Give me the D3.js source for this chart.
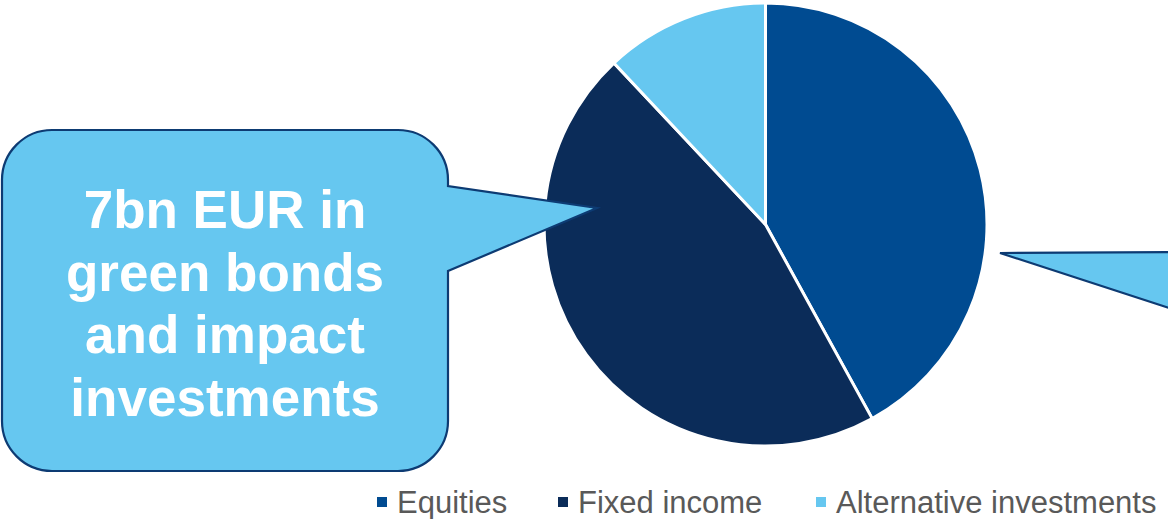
<!DOCTYPE html>
<html><head><meta charset="utf-8">
<script src="https://cdn.jsdelivr.net/npm/d3@7"></script>
<style>html,body{margin:0;padding:0;background:#fff;overflow:hidden}</style>
</head><body>
<svg id="c" width="1168" height="519"></svg>
<script>
const categories = ["Equities", "Fixed income", "Alternative investments"];
const values = [42, 46, 12];
const colors = ["#004b91", "#0b2c59", "#66c7f0"];
const calloutLines = ["7bn EUR in", "green bonds", "and impact", "investments"];

const svg = d3.select("#c");
const font = "'Liberation Sans', Arial, sans-serif";

// pie
const cx = 765.5, cy = 224.5, R = 221.5;
const pie = d3.pie().sort(null).value(d => d);
const arc = d3.arc().innerRadius(0).outerRadius(R);
const g = svg.append("g").attr("transform", `translate(${cx},${cy})`);
g.selectAll("path").data(pie(values)).join("path")
  .attr("d", arc).attr("fill", (d, i) => colors[i])
  .attr("stroke", "#fff").attr("stroke-width", 3).attr("stroke-linejoin", "round");

// left callout
const x0 = 2, x1 = 448, y0 = 130, y1 = 471, r = 50;
const p = d3.path();
p.moveTo(x0 + r, y0);
p.lineTo(x1 - r, y0);
p.arcTo(x1, y0, x1, y0 + r, r);
p.lineTo(x1, 186);
p.lineTo(597, 208);
p.lineTo(x1, 271);
p.lineTo(x1, y1 - r);
p.arcTo(x1, y1, x1 - r, y1, r);
p.lineTo(x0 + r, y1);
p.arcTo(x0, y1, x0, y1 - r, r);
p.lineTo(x0, y0 + r);
p.arcTo(x0, y0, x0 + r, y0, r);
p.closePath();
svg.append("path").attr("d", p.toString()).attr("fill", "#66c7f0")
  .attr("stroke", "#0d3b73").attr("stroke-width", 2.2).attr("stroke-linejoin", "miter");

svg.append("g").selectAll("text").data(calloutLines).join("text")
  .attr("x", 225).attr("y", (d, i) => 228 + i * 62.5)
  .attr("text-anchor", "middle").attr("font-family", font).attr("font-weight", "bold")
  .attr("font-size", 53).attr("fill", "#fff").text(d => d);

// right callout pointer (box off-screen)
svg.append("path").attr("d", "M1200,252 L1000,253 L1200,318 Z")
  .attr("fill", "#66c7f0").attr("stroke", "#0d3b73").attr("stroke-width", 2.2);

// legend
const legX = [377, 558, 816];
const leg = svg.append("g").selectAll("g").data(categories).join("g")
  .attr("transform", (d, i) => `translate(${legX[i]},0)`);
leg.append("rect").attr("x", 0).attr("y", 497).attr("width", 10).attr("height", 10)
  .attr("fill", (d, i) => colors[i]);
leg.append("text").attr("x", 20).attr("y", 513).attr("font-family", font)
  .attr("font-size", 31).attr("fill", "#595959").text(d => d);
</script>
</body></html>
